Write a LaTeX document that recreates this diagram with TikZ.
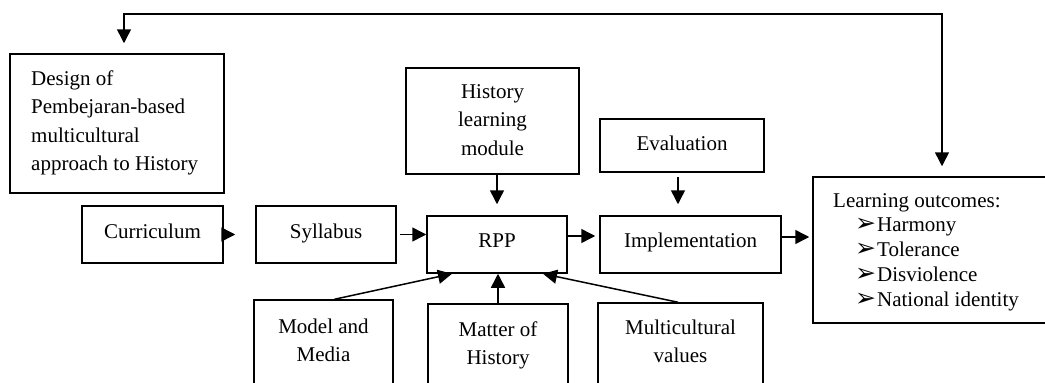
\documentclass[tikz,border=0pt]{standalone}
\usepackage{fontspec}
\setmainfont{Liberation Serif}
\newfontfamily\dejavu{DejaVu Sans}
\usetikzlibrary{arrows.meta}
\newcommand\mystr{\rule{0pt}{16pt}}
\newcommand\bul{\hspace*{22pt}{\dejavu\fontsize{25}{25}\selectfont ➢}\hspace{1pt}}
\begin{document}
\begin{tikzpicture}[x=1pt,y=-1pt,
  box/.style={draw, line width=1.5pt, inner sep=0pt, rectangle},
  lbl/.style={inner sep=0pt, anchor=north, align=center, font=\fontsize{21}{28.5}\selectfont},
  arr/.style={line width=1.5pt, -{Triangle[length=14pt,width=14pt]}},
  darr/.style={line width=1.5pt, {Triangle[length=14pt,width=14pt]}-{Triangle[length=14pt,width=14pt]}}
]
\useasboundingbox (0,0) rectangle (1045,383);

% boxes
\node[box, minimum width=214pt, minimum height=139pt] (design) at (117,123.5) {};
\node[box, minimum width=141pt, minimum height=57pt] (cur) at (152.5,234.5) {};
\node[box, minimum width=140pt, minimum height=57pt] (syl) at (326,234.5) {};
\node[box, minimum width=140pt, minimum height=57pt] (rpp) at (497,244.5) {};
\node[box, minimum width=181pt, minimum height=57pt] (impl) at (690.5,244.5) {};
\node[box, minimum width=173pt, minimum height=106pt] (hist) at (492.5,121) {};
\node[box, minimum width=164pt, minimum height=53pt] (eval) at (682,145.5) {};
\node[box, minimum width=237pt, minimum height=146pt] (learn) at (931.5,250) {};
\node[box, minimum width=139pt, minimum height=120pt] (model) at (323.5,360) {};
\node[box, minimum width=140pt, minimum height=116pt] (matter) at (498,362) {};
\node[box, minimum width=165pt, minimum height=117pt] (multi) at (680.5,361.5) {};

% labels
\node[lbl, anchor=north west, align=left] (designtxt) at (31,69) {\mystr Design of\\Pembejaran-based\\multicultural\\approach to History};
\node[lbl] (curtxt) at (152.5,222) {\mystr Curriculum};
\node[lbl] (syltxt) at (326,222) {\mystr Syllabus};
\node[lbl] (rpptxt) at (497,231) {\mystr RPP};
\node[lbl] (impltxt) at (690.5,231) {\mystr Implementation};
\node[lbl] (evaltxt) at (682,134) {\mystr Evaluation};
\node[lbl] (histtxt) at (492.5,82) {\mystr History\\learning\\module};
\node[lbl, anchor=north west, align=left, font=\fontsize{21}{24.7}\selectfont] (learntxt) at (833,191)
  {\mystr Learning outcomes:\\\bul Harmony\\\bul Tolerance\\\bul Disviolence\\\bul National identity};
\node[lbl] (modeltxt) at (323.5,317) {\mystr Model and\\Media};
\node[lbl] (mattertxt) at (498,320) {\mystr Matter of\\History};
\node[lbl] (multitxt) at (680.5,318) {\mystr Multicultural\\values};

% connectors
\draw[arr, shorten >=20pt] (cur.east) -- (syl.west);
\draw[arr] ([xshift=3pt]syl.east) -- (syl.east -| rpp.west);
\draw[arr, shorten >=4pt] ([yshift=8.5pt]rpp.east) -- ([yshift=8.5pt]rpp.east -| impl.west);
\draw[arr, shorten >=3pt] ([yshift=7.5pt]impl.east) -- ([yshift=7.5pt]impl.east -| learn.west);
\draw[arr, shorten <=4pt, shorten >=11pt] ([xshift=-4pt]eval.south) -- ([xshift=-4pt]eval.south |- impl.north);
\draw[arr, shorten >=11pt] ([xshift=4.5pt]hist.south) -- ([xshift=4.5pt]hist.south |- rpp.north);
\draw[arr] ([xshift=11pt]model.north) -- ([xshift=-45pt]rpp.south);
\draw[arr] (matter.north) -- (matter.north |- rpp.south);
\draw[arr] ([xshift=-2.5pt]multi.north) -- ([xshift=46pt]rpp.south);
\coordinate (fb) at (0,14);
\draw[darr, shorten <=10pt, shorten >=10pt] ([xshift=7pt]design.north) -- ([xshift=7pt]design.north |- fb)
  -- ([xshift=10.5pt]learn.north |- fb) -- ([xshift=10.5pt]learn.north);
\end{tikzpicture}
\end{document}
